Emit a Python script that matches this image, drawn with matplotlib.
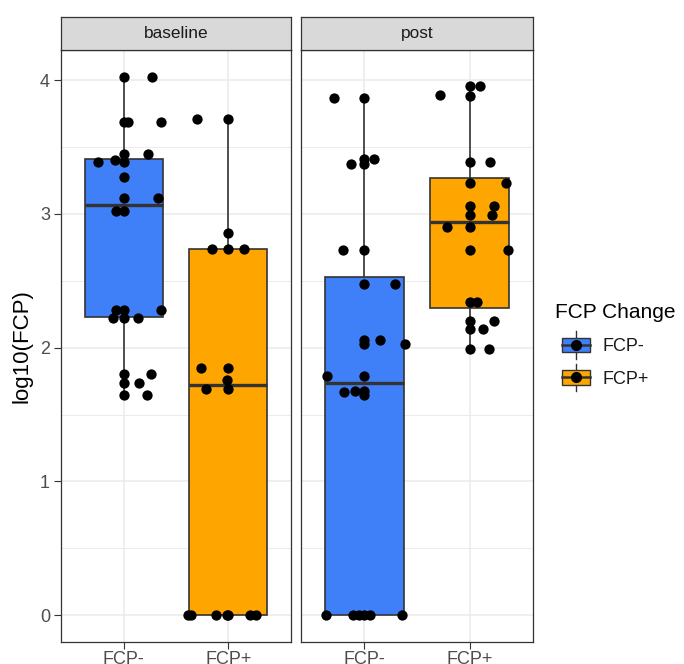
import numpy as np
import matplotlib
matplotlib.use('Agg')
from matplotlib import pyplot as plt
from matplotlib.patches import Rectangle
from matplotlib.lines import Line2D
from matplotlib.legend_handler import HandlerBase

plt.rcParams['font.family'] = ['Liberation Sans', 'DejaVu Sans']

# facets, groups, colours
facets = ['baseline', 'post']
groups = ['FCP-', 'FCP+']
colors = ['#3F80F8', '#FFA500']

# box stats: [FCP-, FCP+] per facet
q1 = {'baseline': [2.23, 0.0], 'post': [0.0, 2.30]}
med = {'baseline': [3.07, 1.72], 'post': [1.74, 2.94]}
q3 = {'baseline': [3.41, 2.74], 'post': [2.53, 3.27]}
whislo = {'baseline': [1.65, 0.0], 'post': [0.0, 1.99]}
whishi = {'baseline': [4.025, 3.71], 'post': [3.87, 3.96]}

# jittered points: (offset from category centre in px at 105 px/category, value)
base_neg = [(0, 4.025), (28, 4.025), (0, 3.69), (4, 3.69), (37, 3.69),
            (0, 3.45), (24, 3.45), (-26, 3.39), (-9, 3.40), (0, 3.39),
            (0, 3.28), (0, 3.12), (34, 3.12), (-8, 3.02), (0, 3.02),
            (-8, 2.28), (0, 2.28), (37, 2.28), (-11, 2.22), (0, 2.22), (14, 2.22),
            (0, 1.80), (27, 1.80), (0, 1.74), (15, 1.74), (0, 1.65), (23, 1.65)]
base_pos = [(-31, 3.71), (0, 3.71), (0, 2.86), (-16, 2.74), (0, 2.74), (16, 2.74),
            (-27, 1.85), (0, 1.85), (-1, 1.76), (-22, 1.69), (0, 1.69),
            (-40, 0), (-37, 0), (-12, 0), (-1, 0), (0, 0), (22, 0), (28, 0)]
post_neg = [(-30, 3.87), (0, 3.87), (-13, 3.37), (0, 3.41), (10, 3.41), (0, 3.37),
            (-21, 2.73), (0, 2.73), (0, 2.475), (31, 2.475),
            (0, 2.06), (16, 2.06), (0, 2.03), (41, 2.03),
            (-37, 1.79), (0, 1.79), (-20, 1.67), (-9, 1.68), (0, 1.68), (0, 1.65),
            (-38, 0), (-11, 0), (-5, 0), (0, 0), (6, 0), (38, 0)]
post_pos = [(0, 3.96), (10, 3.96), (-30, 3.89), (0, 3.88), (0, 3.39), (20, 3.39),
            (0, 3.23), (36, 3.23), (0, 3.06), (24, 3.06), (0, 2.99), (22, 2.99),
            (-23, 2.90), (0, 2.90), (0, 2.73), (38, 2.73), (0, 2.34), (7, 2.34),
            (0, 2.20), (24, 2.20), (0, 2.14), (13, 2.14), (0, 1.99), (19, 1.99)]
points = {'baseline': [base_neg, base_pos], 'post': [post_neg, post_pos]}

W, H = 684, 664
fig = plt.figure(figsize=(W / 100, H / 100), dpi=100)

panel_x = [(61, 230), (301, 232)]
bottom_px, top_px, strip_px = 642, 50, 33
dark = '#333333'

axes = []
for k, f in enumerate(facets):
    x0, w = panel_x[k]
    ax = fig.add_axes([x0 / W, 1 - bottom_px / H, w / W, (bottom_px - top_px) / H])
    axes.append(ax)

    # grid
    for yv in np.arange(0, 4.01, 1):
        ax.axhline(yv, color='#EBEBEB', lw=1.1, zorder=0)
    for yv in np.arange(0.5, 4.01, 1):
        ax.axhline(yv, color='#EBEBEB', lw=0.7, zorder=0)
    for xv in [1, 2]:
        ax.axvline(xv, color='#EBEBEB', lw=1.1, zorder=0)

    stats = []
    for i in range(2):
        stats.append(dict(q1=q1[f][i], med=med[f][i], q3=q3[f][i],
                          whislo=whislo[f][i], whishi=whishi[f][i]))
    bp = ax.bxp(stats, positions=[1, 2], widths=0.75, patch_artist=True,
                showfliers=False, showcaps=False,
                boxprops=dict(edgecolor=dark, linewidth=1.2),
                whiskerprops=dict(color=dark, linewidth=1.2),
                medianprops=dict(color=dark, linewidth=2.4))
    for patch, c in zip(bp['boxes'], colors):
        patch.set_facecolor(c)
        patch.set_zorder(2)

    for i in range(2):
        pts = np.array(points[f][i], dtype=float)
        ax.scatter(i + 1 + pts[:, 0] / 105.0, pts[:, 1], s=55, color='black',
                   zorder=4, linewidths=0)

    ax.set_xlim(0.4, 2.6)
    ax.set_ylim(-0.2, 4.226)
    ax.set_xticks([1, 2])
    ax.set_xticklabels(groups)
    ax.set_yticks([0, 1, 2, 3, 4])
    ax.tick_params(colors=dark, labelcolor='#4D4D4D', labelsize=13, length=5,
                   width=0.8, pad=3)
    ax.tick_params(axis='x', pad=1.5)
    if k > 0:
        ax.tick_params(axis='y', labelleft=False, left=False)
    for s in ax.spines.values():
        s.set_color(dark)
        s.set_linewidth(0.9)

    # strip
    sax = fig.add_axes([x0 / W, 1 - top_px / H, w / W, strip_px / H])
    sax.set_facecolor('#D9D9D9')
    sax.set_xticks([])
    sax.set_yticks([])
    for s in sax.spines.values():
        s.set_color(dark)
        s.set_linewidth(0.9)
    sax.text(0.5, 0.5, f, ha='center', va='center', fontsize=12.4, color='#1A1A1A',
             transform=sax.transAxes)

axes[0].set_ylabel('log10(FCP)', fontsize=16, labelpad=5)


class BoxKey(HandlerBase):
    def create_artists(self, legend, orig_handle, xdescent, ydescent, width,
                       height, fontsize, trans):
        # keys sit a little to the right of the title, as in ggplot
        x0, y0 = -xdescent + 5, -ydescent
        cx = x0 + width / 2
        cy = y0 + height / 2
        whisk = Line2D([cx, cx], [y0 - height * 0.35, y0 + height * 1.35],
                       color=dark, lw=1.0, transform=trans)
        rect = Rectangle((x0, y0 + height * 0.06), width, height * 0.88,
                         facecolor=orig_handle.get_facecolor(), edgecolor=dark,
                         lw=1.0, transform=trans)
        mline = Line2D([x0, x0 + width], [cy, cy], color=dark, lw=1.8, transform=trans)
        dot = Line2D([cx], [cy], marker='o', color='black', ms=7, lw=0,
                     transform=trans)
        return [whisk, rect, mline, dot]


handles = [Rectangle((0, 0), 1, 1, facecolor=c) for c in colors]
leg = fig.legend(handles, groups, title='FCP Change', loc='upper left',
                 bbox_to_anchor=(539 / W, 1 - 287 / H), frameon=False,
                 handler_map={Rectangle: BoxKey()}, fontsize=13,
                 title_fontsize=15, handlelength=1.55, handleheight=1.0,
                 labelspacing=0.8, handletextpad=1.08)
leg._legend_box.align = 'left'
for t in leg.get_texts():
    t.set_color('#1A1A1A')

fig.savefig('out.png', dpi=100)
